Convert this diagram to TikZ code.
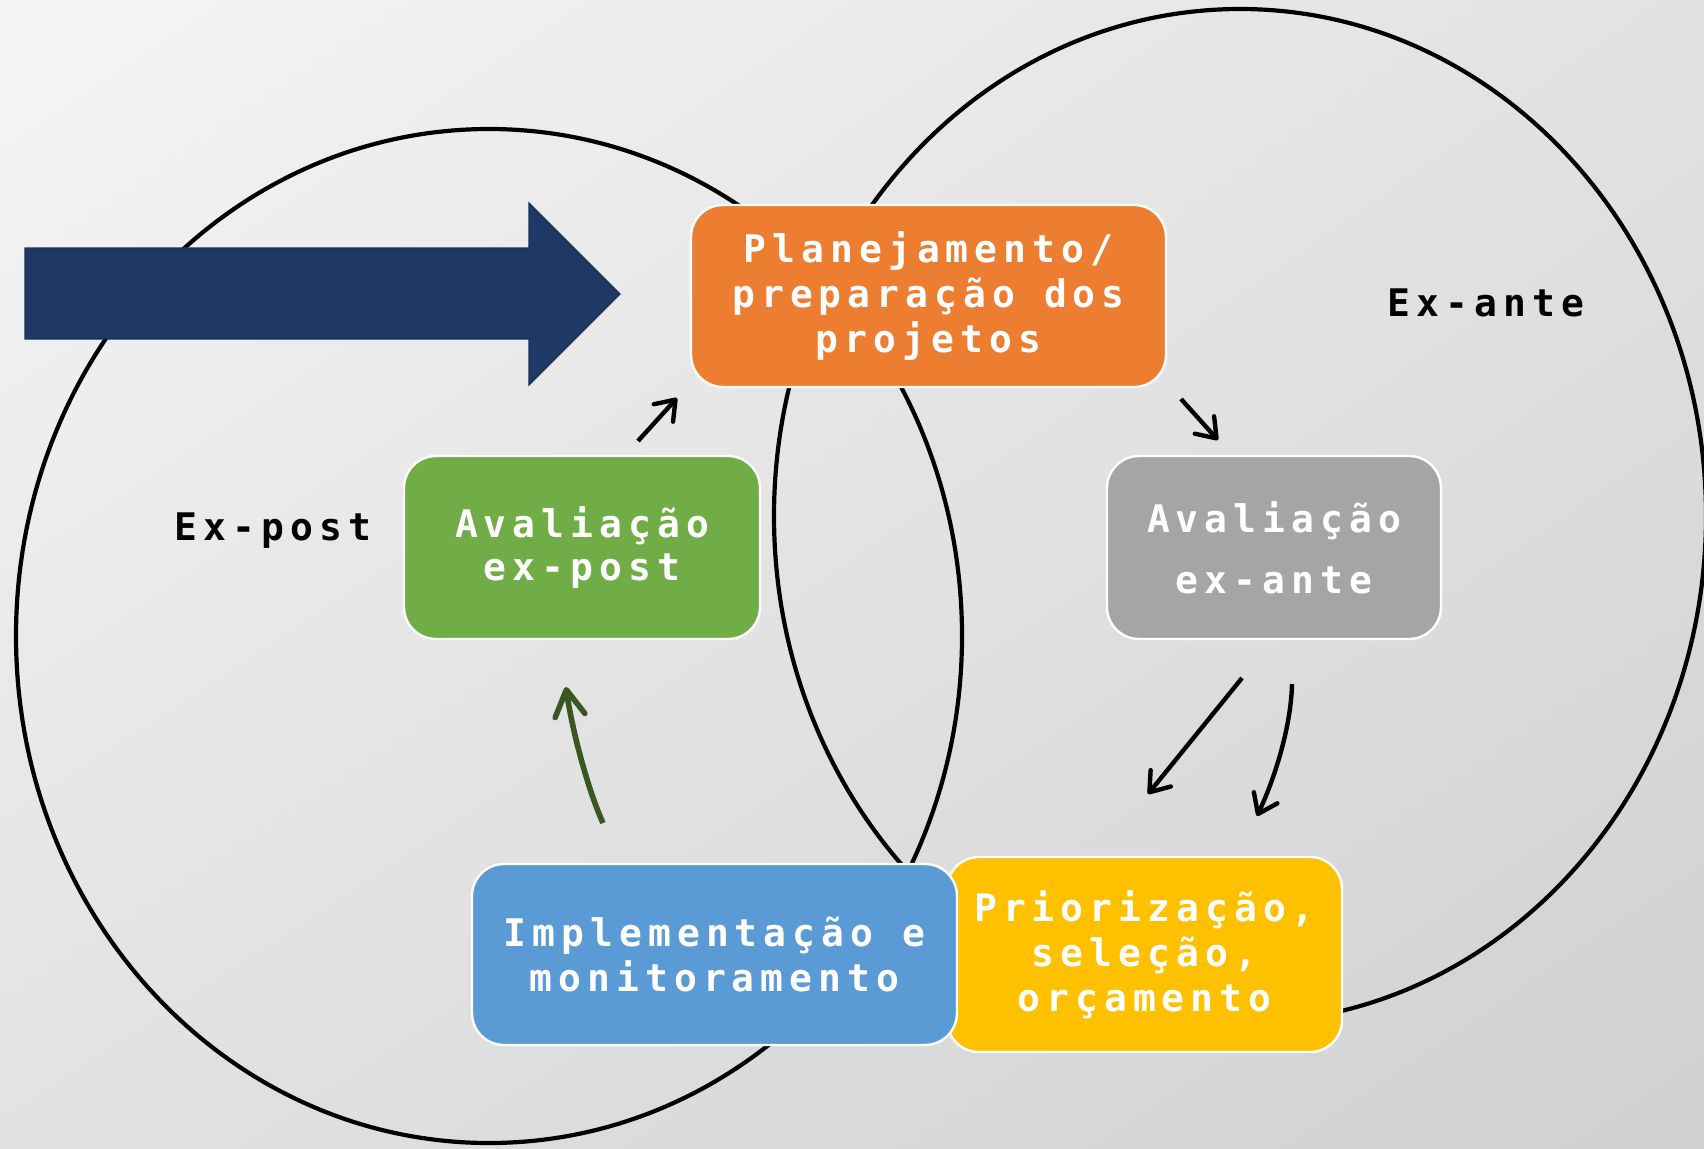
\documentclass[tikz,border=0pt]{standalone}
\usepackage{fontspec}
\usetikzlibrary{arrows.meta,shadings}
\newfontfamily\diagfont{DejaVu Sans Mono}[LetterSpace=15.8]

\definecolor{bgA}{HTML}{F5F5F5}
\definecolor{bgB}{HTML}{E2E2E2}
\definecolor{bgC}{HTML}{D0D0D0}
\definecolor{navy}{HTML}{1F3864}
\definecolor{planorange}{HTML}{ED7D31}
\definecolor{evalgray}{HTML}{A5A5A5}
\definecolor{evalgreen}{HTML}{70AD47}
\definecolor{implblue}{HTML}{5B9BD5}
\definecolor{prioyellow}{HTML}{FFC000}
\definecolor{arrowgreen}{HTML}{385723}

\begin{document}
\begin{tikzpicture}[
  x=0.5pt, y=-0.5pt,
  ring/.style={draw=black, line width=2.1pt},
  stage/.style={rounded corners=16pt, draw=white, line width=1.2pt,
    text=white, align=center, inner sep=0pt,
    font=\diagfont\bfseries\fontsize{19}{22.5}\selectfont},
  phase/.style={text=black, inner sep=0pt,
    font=\diagfont\bfseries\fontsize{19}{22.5}\selectfont},
  flow/.style={draw=black, line width=2.2pt,
    -{Straight Barb[length=9pt,width=13pt,round]}},
  backflow/.style={draw=arrowgreen, line width=2.8pt,
    -{Straight Barb[length=13pt,width=15pt,round]}},
]
\useasboundingbox (0,0) rectangle (1704,1148);
\clip (0,0) rectangle (1704,1148);

% background
\shade[upper left=bgA, upper right=bgB, lower left=bgB, lower right=bgC]
  (0,0) rectangle (1704,1148);

% the two phase rings
\draw[ring] (489,636) ellipse [x radius=473, y radius=507];
\draw[ring] (1240,516) ellipse [x radius=466, y radius=507];

% entry arrow
\fill[navy, draw=navy!85!black, line width=0.6pt]
  (25,248) -- (529,248) -- (529,203) -- (620,294) -- (529,385)
  -- (529,339) -- (25,339) -- cycle;

% cycle stages
\node[stage, fill=prioyellow, minimum width=197.5pt, minimum height=97.5pt]
  (prio) at (1144.5,954.5) {Priorização,\\seleção,\\orçamento};
\node[stage, fill=implblue, minimum width=242.5pt, minimum height=90.5pt]
  (impl) at (714.5,954.5) {Implementação e\\monitoramento};
\node[stage, fill=planorange, minimum width=237.5pt, minimum height=91pt]
  (plan) at (928.5,296) {Planejamento/\\preparação dos\\projetos};
\node[stage, fill=evalgray, minimum width=167pt, minimum height=91.5pt,
  font=\diagfont\bfseries\fontsize{19}{30.5}\selectfont]
  (exante) at (1274,547.5) {Avaliação\\ex-ante};
\node[stage, fill=evalgreen, minimum width=178pt, minimum height=91.5pt,
  font=\diagfont\bfseries\fontsize{19}{21.5}\selectfont]
  (expost) at (582,547.5) {Avaliação\\ex-post};

% phase labels
\node[phase, anchor=base] (antelabel) at (1486,316) {Ex-ante};
\node[phase, anchor=base] (postlabel) at (273,540) {Ex-post};

% connectors
\coordinate (p1s) at (638,441);  \coordinate (p1e) at (677,398);
\coordinate (p2s) at (1181,399); \coordinate (p2e) at (1218,440);
\coordinate (p3s) at (1242,678); \coordinate (p3e) at (1148,794);
\coordinate (p4s) at (1292,684); \coordinate (p4e) at (1257,816);
\coordinate (p5s) at (603,823);  \coordinate (p5e) at (566,687);

\draw[flow] (p1s) -- (p1e);
\draw[flow] (p2s) -- (p2e);
\draw[flow] (p3s) -- (p3e);
\draw[flow] (p4s) .. controls (1291,728) and (1274,780) .. (p4e);
\draw[backflow] (p5s) .. controls (588,790) and (572,730) .. (p5e);
\end{tikzpicture}
\end{document}
